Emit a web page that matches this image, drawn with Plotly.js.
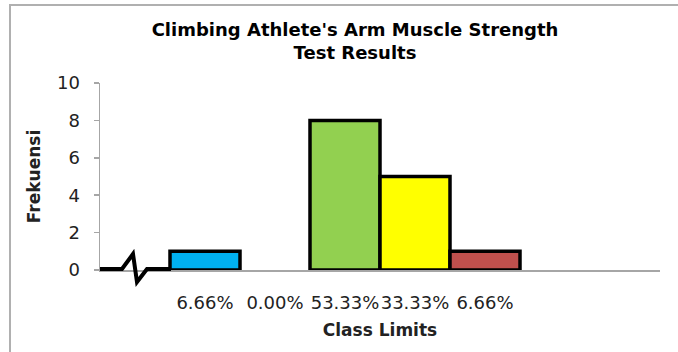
<!DOCTYPE html>
<html>
<head>
<meta charset="utf-8">
<script src="https://cdn.plot.ly/plotly-3.0.1.min.js"></script>
<style>html,body{margin:0;padding:0;background:#fff}#chart{width:678px;height:352px}</style>
</head>
<body>
<div id="chart"></div>
<script>
// Class slots: first slot holds the axis break, last two are empty
var slotIndex = [0, 1, 2, 3, 4, 5, 6, 7];
var frequencies = [0, 1, 0, 8, 5, 1, 0, 0];
var barColors = ['#ffffff', '#00B0F0', '#ffffff', '#92D050', '#FFFF00', '#C0504D', '#ffffff', '#ffffff'];
var tickPositions = [1, 2, 3, 4, 5];
var tickLabels = ['6.66%', '0.00%', '53.33%', '33.33%', '6.66%'];
var yTicks = [0, 2, 4, 6, 8, 10];

var trace = {
  type: 'bar',
  x: slotIndex,
  y: frequencies,
  marker: {
    color: barColors,
    line: {color: '#000000', width: frequencies.map(function (v) { return v > 0 ? 3.5 : 0; })}
  },
  hoverinfo: 'none',
  showlegend: false
};

// plot area in px: x 100..660, y 83..270
function px(x) { return (x - 100) / 560; }
function py(y) { return (270 - y) / 187; }
var zig = 'M ' + px(100) + ' ' + py(269) + ' L ' + px(122) + ' ' + py(269) +
  ' L ' + px(133) + ' ' + py(254) + ' L ' + px(137) + ' ' + py(282) +
  ' L ' + px(147) + ' ' + py(269) + ' L ' + px(171) + ' ' + py(269);

var layout = {
  width: 678, height: 352,
  margin: {l: 100, r: 18, t: 83, b: 82},
  paper_bgcolor: '#ffffff', plot_bgcolor: '#ffffff',
  bargap: 0,
  title: {
    text: "Climbing Athlete's Arm Muscle Strength<br>Test Results",
    font: {family: 'DejaVu Sans, Liberation Sans, sans-serif', size: 18, color: '#000000', weight: 'bold'},
    x: 355 / 678, xref: 'container', xanchor: 'center',
    y: 1 - 36 / 352, yref: 'container', yanchor: 'top'
  },
  xaxis: {
    range: [-0.5, 7.5],
    tickmode: 'array', tickvals: tickPositions, ticktext: tickLabels,
    tickangle: 0,
    ticks: '', showgrid: false, zeroline: false,
    showline: true, linecolor: '#a6a6a6', linewidth: 1.5,
    tickfont: {family: 'DejaVu Sans, sans-serif', size: 18, color: '#222222'},
    ticklabelstandoff: 16,
    title: {text: 'Class Limits', font: {family: 'DejaVu Sans, sans-serif', size: 17, color: '#222222', weight: 'bold'}, standoff: 12}
  },
  yaxis: {
    range: [0, 10],
    tickmode: 'array', tickvals: yTicks,
    ticks: 'outside', ticklen: 5, tickcolor: '#a6a6a6', tickwidth: 1.5,
    showgrid: false, zeroline: false,
    showline: true, linecolor: '#a6a6a6', linewidth: 1.5,
    tickfont: {family: 'DejaVu Sans, sans-serif', size: 18, color: '#222222'},
    ticklabelstandoff: 10,
    title: {text: 'Frekuensi', font: {family: 'DejaVu Sans, sans-serif', size: 17, color: '#222222', weight: 'bold'}, standoff: 12}
  },
  shapes: [
    {type: 'rect', xref: 'paper', yref: 'paper', x0: -90 / 560, x1: 700 / 560, y0: -120 / 187, y1: (270 - 5) / 187,
     line: {color: '#b0b0b0', width: 2}, fillcolor: 'rgba(0,0,0,0)', layer: 'below'},
    {type: 'path', xref: 'paper', yref: 'paper', path: zig, line: {color: '#000000', width: 4}, layer: 'above'}
  ]
};

Plotly.newPlot('chart', [trace], layout, {displayModeBar: false, staticPlot: true});
</script>
</body>
</html>
